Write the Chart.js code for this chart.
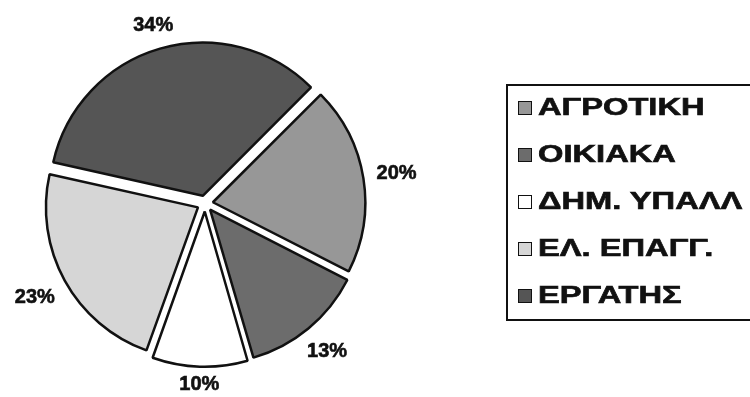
<!DOCTYPE html>
<html lang="el">
<head>
<meta charset="UTF-8">
<title>Κατανομή ανά επάγγελμα</title>
<script src="https://cdn.jsdelivr.net/npm/chart.js@4.4.1/dist/chart.umd.min.js"></script>
<style>
    html, body {
        margin: 0;
        padding: 0;
        background: #fff;
        overflow: hidden;
    }
    .wrap {
        position: relative;
        width: 750px;
        height: 397px;
    }
    #pieChart {
        position: absolute;
        left: 0;
        top: 0;
    }
    .legend-box {
        position: absolute;
        left: 506px;
        top: 84px;
        width: 270px;
        height: 233px;
        border: 2px solid #111;
        font-family: "Liberation Sans", Arial, sans-serif;
        font-weight: bold;
        font-size: 23px;
        color: #111;
    }
    .legend-row {
        height: 47px;
        display: flex;
        align-items: center;
    }
    .legend-row:first-child {
        margin-top: -2px;
    }
    .swatch {
        width: 12px;
        height: 12px;
        border: 1.5px solid #111;
        margin-left: 10px;
        margin-right: 6px;
        flex: none;
    }
    .legend-text {
        display: inline-block;
        white-space: nowrap;
        -webkit-text-stroke: 0.6px #111;
        transform: scaleX(1.42);
        transform-origin: left center;
    }
</style>
</head>
<body>
<div class="wrap">
    <canvas id="pieChart" width="750" height="397"></canvas>
    <div class="legend-box" id="legend"></div>
</div>
<script>
// Occupation groups and their shares (%)
const categories = ['ΑΓΡΟΤΙΚΗ', 'ΟΙΚΙΑΚΑ', 'ΔΗΜ. ΥΠΑΛΛ', 'ΕΛ. ΕΠΑΓΓ.', 'ΕΡΓΑΤΗΣ'];
const shares = [20, 13, 10, 23, 34];
const sliceColors = ['#979797', '#6c6c6c', '#ffffff', '#d6d6d6', '#555555'];

document.addEventListener('DOMContentLoaded', function() {
    const chart = initializePieChart();
    buildLegend(chart);
});

// Percent labels placed just outside each (exploded) slice
const outerLabels = {
    id: 'outerLabels',
    afterDatasetsDraw(chart) {
        const ctx = chart.ctx;
        const meta = chart.getDatasetMeta(0);
        const offset = 8;
        ctx.save();
        ctx.font = 'bold 20px "Liberation Sans", Arial, sans-serif';
        ctx.fillStyle = '#111';
        ctx.strokeStyle = '#111';
        ctx.lineWidth = 0.6;
        ctx.textAlign = 'center';
        ctx.textBaseline = 'middle';
        meta.data.forEach((arc, i) => {
            const mid = (arc.startAngle + arc.endAngle) / 2;
            const text = shares[i] + '%';
            const hw = ctx.measureText(text).width / 2;
            const hh = 7.5;
            const cos = Math.cos(mid);
            const sin = Math.sin(mid);
            const dist = arc.outerRadius + offset + 13 + Math.abs(cos) * hw + Math.abs(sin) * hh;
            const x = arc.x + cos * dist;
            const y = arc.y + sin * dist;
            ctx.fillText(text, x, y);
            ctx.strokeText(text, x, y);
        });
        ctx.restore();
    }
};

function initializePieChart() {
    const ctx = document.getElementById('pieChart');

    return new Chart(ctx, {
        type: 'pie',
        data: {
            labels: categories,
            datasets: [{
                data: shares,
                backgroundColor: sliceColors,
                borderColor: '#111',
                borderWidth: 2.5,
                offset: 32
            }]
        },
        options: {
            responsive: false,
            animation: false,
            rotation: 45,
            radius: 152,
            layout: {
                padding: { left: 0, right: 340, top: 10, bottom: 0 }
            },
            plugins: {
                legend: { display: false },
                tooltip: { enabled: false }
            }
        },
        plugins: [outerLabels]
    });
}

function buildLegend(chart) {
    const box = document.getElementById('legend');
    const colors = chart.data.datasets[0].backgroundColor;
    chart.data.labels.forEach((label, i) => {
        const row = document.createElement('div');
        row.className = 'legend-row';
        row.innerHTML = `
            <span class="swatch" style="background:${colors[i]}"></span>
            <span class="legend-text">${label}</span>
        `;
        box.appendChild(row);
    });
}
</script>
</body>
</html>
